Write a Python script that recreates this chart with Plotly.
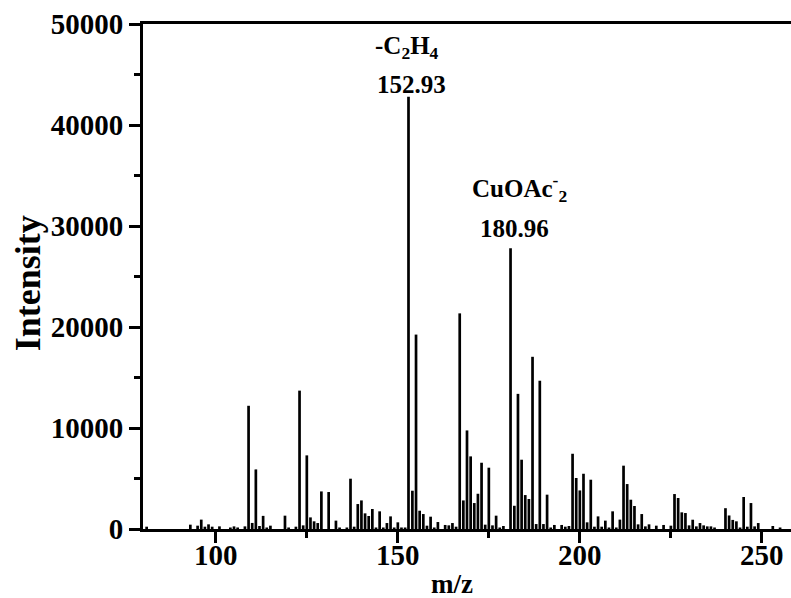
import plotly.graph_objects as go

# ---- data ----
mz = [81, 93, 95, 96, 97, 98, 99, 101, 104, 105, 106, 108, 109, 110, 111, 112, 113, 114, 115,
      119, 120, 122, 123, 124, 125, 126, 127, 128, 129, 131, 133, 134, 136, 137, 138, 139, 140,
      141, 142, 143, 144, 145, 146, 147, 148, 149, 150, 151, 152, 152.93, 154, 155, 156, 157,
      158, 159, 160, 161, 163, 164, 165, 166, 167, 168, 169, 170, 171, 172, 173, 174, 175, 176,
      177, 178, 179, 180.96, 182, 183, 184, 185, 186, 187, 188, 189, 190, 191, 192, 193, 195,
      196, 197, 198, 199, 200, 201, 202, 203, 204, 205, 206, 207, 208, 209, 210, 211, 212, 213,
      214, 215, 216, 217, 218, 219, 221, 223, 225, 226, 227, 228, 229, 230, 231, 232, 233, 234,
      235, 236, 237, 240, 241, 242, 243, 244, 245, 246, 247, 248, 249, 253, 255]
intensity = [230, 430, 330, 930, 230, 460, 230, 260, 150, 260, 150, 260, 12200, 600, 5900, 300,
             1300, 150, 330, 1320, 150, 230, 13700, 360, 7290, 1150, 760, 590, 3720, 3660, 830,
             150, 150, 4980, 230, 2470, 2830, 1550, 1290, 1980, 150, 1750, 150, 590, 1250, 150,
             660, 150, 150, 42800, 3790, 19250, 1810, 1480, 330, 1220, 150, 690, 400, 360, 590,
             230, 21350, 2830, 9760, 7190, 2570, 3490, 6560, 430, 6070, 360, 1320, 150, 300,
             27800, 2300, 13380, 6860, 3360, 2970, 17050, 490, 14680, 490, 3400, 150, 400, 400,
             230, 300, 7450, 5050, 3820, 5470, 660, 4880, 230, 1250, 230, 830, 150, 1750, 150,
             930, 6270, 4450, 2900, 2280, 460, 1480, 260, 460, 330, 400, 330, 3460, 3070, 1650,
             1580, 360, 920, 260, 590, 360, 260, 260, 150, 2060, 1340, 900, 760, 150, 3170, 230,
             2570, 260, 590, 300, 150]

x_ticks = [100, 150, 200, 250]
y_ticks = [0, 10000, 20000, 30000, 40000, 50000]

FONT = "Liberation Serif"

# stick spectrum: vertical segments from 0 to intensity
xs, ys = [], []
for m, v in zip(mz, intensity):
    xs += [m, m, None]
    ys += [0, v, None]

fig = go.Figure()
fig.add_trace(go.Scatter(x=xs, y=ys, mode="lines",
                         line=dict(color="black", width=2.7),
                         hoverinfo="skip", showlegend=False))

ann_font = dict(family=FONT, size=25, color="black", weight="bold")
fig.add_annotation(x=152.93, y=47700, xref="x", yref="y", showarrow=False,
                   text="-C<sub>2</sub>H<sub>4</sub>", font=ann_font, xshift=-2)
fig.add_annotation(x=152.93, y=44000, xref="x", yref="y", showarrow=False,
                   text="152.93", font=ann_font, xshift=3)
fig.add_annotation(x=180.96, y=33800, xref="x", yref="y", showarrow=False,
                   text="CuOAc<sup>-</sup><sub>2</sub>", font=ann_font, xshift=9)
fig.add_annotation(x=180.96, y=29800, xref="x", yref="y", showarrow=False,
                   text="180.96", font=ann_font, xshift=4)

tick_font = dict(family=FONT, size=29, color="black", weight="bold")

# x tick labels (placed just under the ticks, as in the reference)
for t in x_ticks:
    fig.add_annotation(x=t, xref="x", yref="paper", y=-0.0515, showarrow=False,
                       xanchor="center", yanchor="middle", text=str(t), font=tick_font)

# axis titles
fig.add_annotation(xref="paper", yref="paper", x=0.477, y=-0.109, showarrow=False,
                   xanchor="center", yanchor="middle", text="m/z",
                   font=dict(family=FONT, size=27, color="black", weight="bold"))
fig.add_annotation(xref="paper", yref="paper", x=-0.177, y=0.487, showarrow=False,
                   xanchor="center", yanchor="middle", text="Intensity", textangle=-90,
                   font=dict(family=FONT, size=36, color="black", weight="bold"))

fig.update_layout(
    width=791, height=598,
    margin=dict(l=143, r=0, t=24, b=69),
    paper_bgcolor="white", plot_bgcolor="white",
    xaxis=dict(
        range=[80, 258], tickvals=x_ticks, showticklabels=False,
        ticks="outside", ticklen=11, tickwidth=2.5, tickcolor="black",
        minor=dict(dtick=25, tick0=0, ticks="outside", ticklen=6, tickwidth=2.5, tickcolor="black"),
        showline=True, linecolor="black", linewidth=2.8, mirror=True,
        showgrid=False, zeroline=False,
        automargin=False,
    ),
    yaxis=dict(
        range=[0, 50000], tickvals=y_ticks, ticktext=[str(t) for t in y_ticks],
        ticks="outside", ticklen=11, tickwidth=2.5, tickcolor="black",
        minor=dict(dtick=5000, tick0=0, ticks="outside", ticklen=6, tickwidth=2.5, tickcolor="black"),
        showline=True, linecolor="black", linewidth=2.8, mirror=False,
        showgrid=False, zeroline=False, tickfont=tick_font,
        automargin=False,
    ),
)

fig.write_html("out.html")
